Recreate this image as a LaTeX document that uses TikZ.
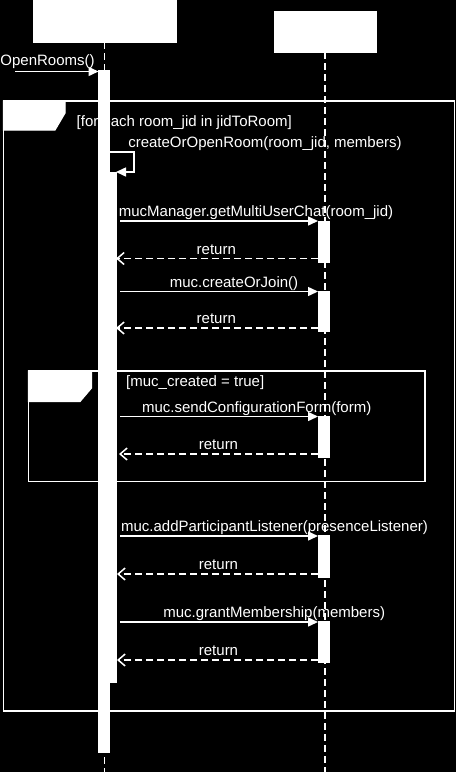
\documentclass[tikz,border=0pt]{standalone}
\usepackage{fontspec}
\setmainfont{Liberation Sans}
\usetikzlibrary{arrows.meta}
\begin{document}
\begin{tikzpicture}[x=1pt,y=-1pt,
  lbl/.style={font=\fontsize{15}{18}\selectfont, text=white, inner sep=0pt, anchor=base},
  cond/.style={font=\fontsize{15}{18}\selectfont, text=white, inner sep=0pt, anchor=base west},
  lifebox/.style={draw=white, fill=white, inner sep=0pt},
  actbar/.style={draw=white, fill=white, inner sep=0pt, minimum width=11pt},
  lifeline/.style={draw=white, line width=1.5pt, dash pattern=on 7pt off 4pt},
  frame/.style={draw=white, line width=1.2pt},
  tab/.style={draw=white, fill=white, line width=1.2pt},
  msg/.style={draw=white, line width=1.5pt, -{Triangle[length=10pt,width=9pt]}},
  ret/.style={draw=white, line width=1.5pt, dash pattern=on 7pt off 4pt, -{Straight Barb[length=7pt,width=12pt]}}
]
\fill[black] (0,0) rectangle (456,772);
\useasboundingbox (0,0) rectangle (456,772);

% lifeline heads
\node[lifebox, minimum width=143pt, minimum height=42pt] (A) at (104.5,21) {};
\node[lifebox, minimum width=102pt, minimum height=41pt] (B) at (324.8,31.5) {};
\coordinate (Aend) at (104.5,772);
\coordinate (Bend) at (324.8,772);

% frames
\draw[frame] (3.5,101) rectangle (454.5,711);
\filldraw[tab] (3.5,101) -- (65,101) -- (65,113) -- (55,130) -- (3.5,130) -- cycle;
\node[cond] (c1) at (76.5,126.5) {[for each room\_jid in jidToRoom]};
\draw[frame] (28.5,371) rectangle (425,481.5);
\filldraw[tab] (28.5,371) -- (91.5,371) -- (91.5,388) -- (80,401.5) -- (28.5,401.5) -- cycle;
\node[cond] (c2) at (126,386.5) {[muc\_created = true]};

% message labels
\node[lbl] (l0) at (47.5,65.5) {OpenRooms()};
\node[lbl] (l1) at (265,147) {createOrOpenRoom(room\_jid, members)};
\node[lbl] (l2) at (256,216.5) {mucManager.getMultiUserChat(room\_jid)};
\node[lbl] (l3) at (216.3,254) {return};
\node[lbl] (l4) at (234,287) {muc.createOrJoin()};
\node[lbl] (l5) at (216.3,323.5) {return};
\node[lbl] (l6) at (256.7,412) {muc.sendConfigurationForm(form)};
\node[lbl] (l7) at (218.5,449.5) {return};
\node[lbl] (l8) at (274.5,531.5) {muc.addParticipantListener(presenceListener)};
\node[lbl] (l9) at (218.5,569.5) {return};
\node[lbl] (l10) at (274.2,617.5) {muc.grantMembership(members)};
\node[lbl] (l11) at (218.5,655.5) {return};

% lifelines
\draw[lifeline] (A.south) -- (Aend);
\draw[lifeline] (B.south) -- (Bend);

% activation bars
\node[actbar, minimum height=682pt] (actA) at (104,411) {};
\node[actbar, minimum height=510pt] (actA2) at (110.5,427) {};
\node[actbar, minimum width=11pt, minimum height=41pt] (b1) at (324,241.5) {};
\node[actbar, minimum height=40pt] (b2) at (324,311.5) {};
\node[actbar, minimum height=41pt] (b3) at (324,436.5) {};
\node[actbar, minimum height=42pt] (b4) at (324,556) {};
\node[actbar, minimum height=41pt] (b5) at (324,641.5) {};

% coordinates for message ends
\coordinate (s0) at (15,71.5);
\coordinate (e0) at (98.5,71.5);
\coordinate (sf1) at (110,152);
\coordinate (sf2) at (134,152);
\coordinate (sf3) at (134,172);
\coordinate (sf4) at (116,172);
\coordinate (m1s) at (120,221);   \coordinate (m1e) at (318,221);
\coordinate (r1s) at (318,258.5); \coordinate (r1e) at (116,258.5);
\coordinate (m2s) at (120,291.5); \coordinate (m2e) at (318,291.5);
\coordinate (r2s) at (318,328);   \coordinate (r2e) at (116,328);
\coordinate (m3s) at (120,416.5); \coordinate (m3e) at (318,416.5);
\coordinate (r3s) at (318,454);   \coordinate (r3e) at (119,454);
\coordinate (m4s) at (120,536);   \coordinate (m4e) at (318,536);
\coordinate (r4s) at (318,574);   \coordinate (r4e) at (117,574);
\coordinate (m5s) at (120,622);   \coordinate (m5e) at (318,622);
\coordinate (r5s) at (318,660);   \coordinate (r5e) at (117,660);

% messages
\draw[msg] (s0) -- (e0);
\draw[msg] (sf1) -- (sf2) -- (sf3) -- (sf4);
\draw[msg] (m1s) -- (m1e);
\draw[ret] (r1s) -- (r1e);
\draw[msg] (m2s) -- (m2e);
\draw[ret] (r2s) -- (r2e);
\draw[msg] (m3s) -- (m3e);
\draw[ret] (r3s) -- (r3e);
\draw[msg] (m4s) -- (m4e);
\draw[ret] (r4s) -- (r4e);
\draw[msg] (m5s) -- (m5e);
\draw[ret] (r5s) -- (r5e);
\end{tikzpicture}
\end{document}
